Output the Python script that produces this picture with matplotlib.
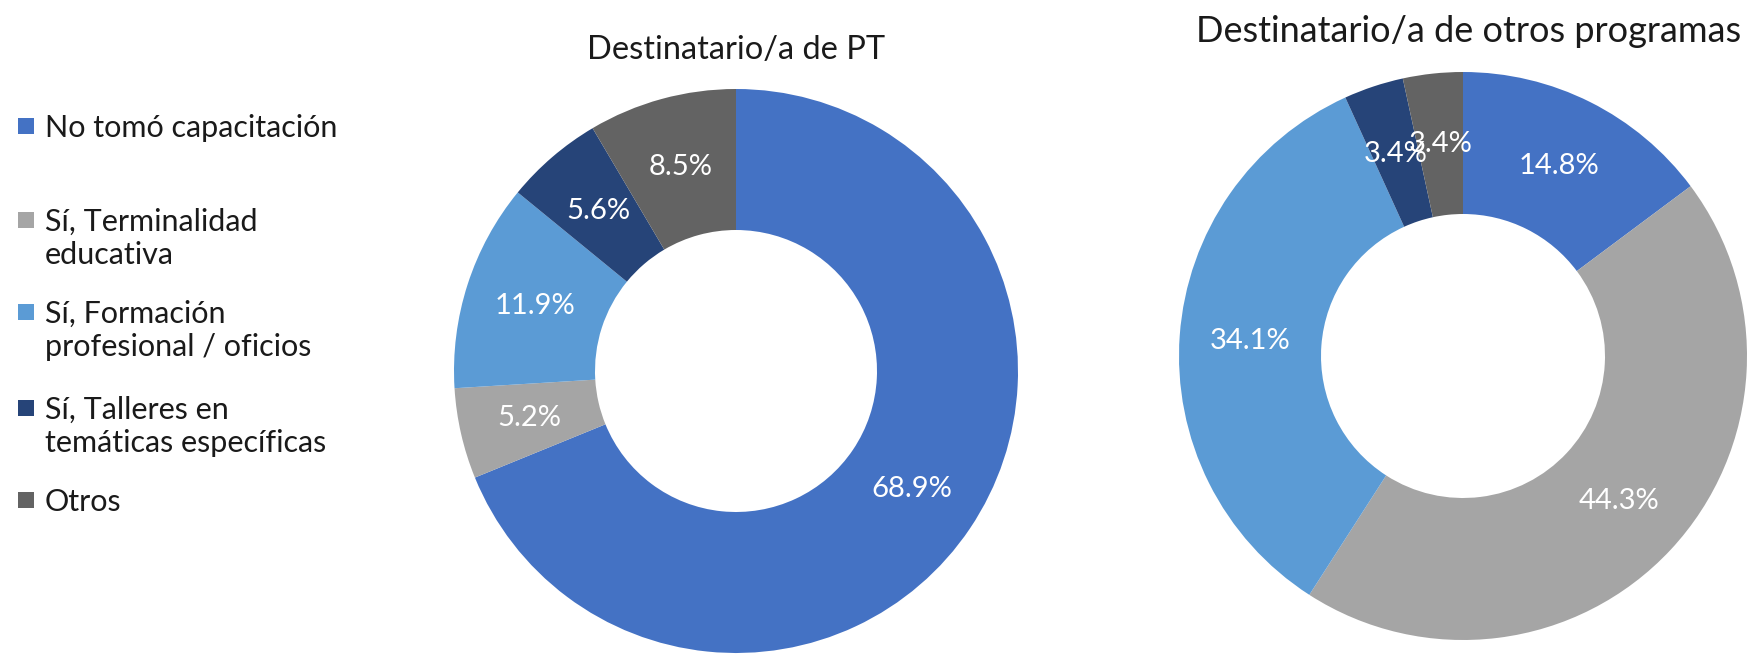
import matplotlib
matplotlib.use("Agg")
import matplotlib.pyplot as plt
from matplotlib.patches import Rectangle

plt.rcParams['font.family'] = ['Lato', 'DejaVu Sans']

categories = ["No tomó capacitación", "Sí, Terminalidad\neducativa",
              "Sí, Formación\nprofesional / oficios",
              "Sí, Talleres en\ntemáticas específicas", "Otros"]
pt_values = [68.9, 5.2, 11.9, 5.6, 8.5]
otros_values = [14.8, 44.3, 34.1, 3.4, 3.4]
titles = ["Destinatario/a de PT", "Destinatario/a de otros programas"]
colors = ["#4472C4", "#A5A5A5", "#5B9BD5", "#264478", "#636363"]

W, H = 1755, 655
fig = plt.figure(figsize=(W / 100, H / 100), dpi=100)

def fx(px):
    return px / W

def fy(py):
    return 1 - py / H

def donut(cx, cy, r, values, title, tx, ty, tsize):
    ax = fig.add_axes([fx(cx - r), fy(cy + r), 2 * r / W, 2 * r / H])
    wedges, texts, autotexts = ax.pie(
        values, colors=colors, startangle=90, counterclock=False,
        wedgeprops=dict(width=0.5, edgecolor='none'),
        autopct=lambda p: "", pctdistance=0.75, radius=1)
    for v, at in zip(values, autotexts):
        at.set_text(f"{v:.1f}%")
        at.set_color("white")
        at.set_fontsize(21)
    ax.set_xlim(-1, 1)
    ax.set_ylim(-1, 1)
    ax.set_aspect('equal')
    ax.axis('off')
    fig.text(fx(tx), fy(ty), title, ha='center', va='center',
             fontsize=tsize, color='#1a1a1a')
    return ax

donut(736, 371, 282, pt_values, titles[0], 736, 50, 23.5)
donut(1463, 356, 284, otros_values, titles[1], 1469, 31, 26)

# legend
leg_y = [126, 220, 312, 408, 500]
for lab, col, y in zip(categories, colors, leg_y):
    fig.patches.append(Rectangle((fx(18), fy(y + 8)), 16 / W, 16 / H,
                                 transform=fig.transFigure, facecolor=col,
                                 edgecolor='none'))
    fig.text(fx(45), fy(y - 12), lab, ha='left', va='top', fontsize=22,
             color='#1a1a1a', linespacing=1.2)

fig.savefig("out.png", dpi=100)
